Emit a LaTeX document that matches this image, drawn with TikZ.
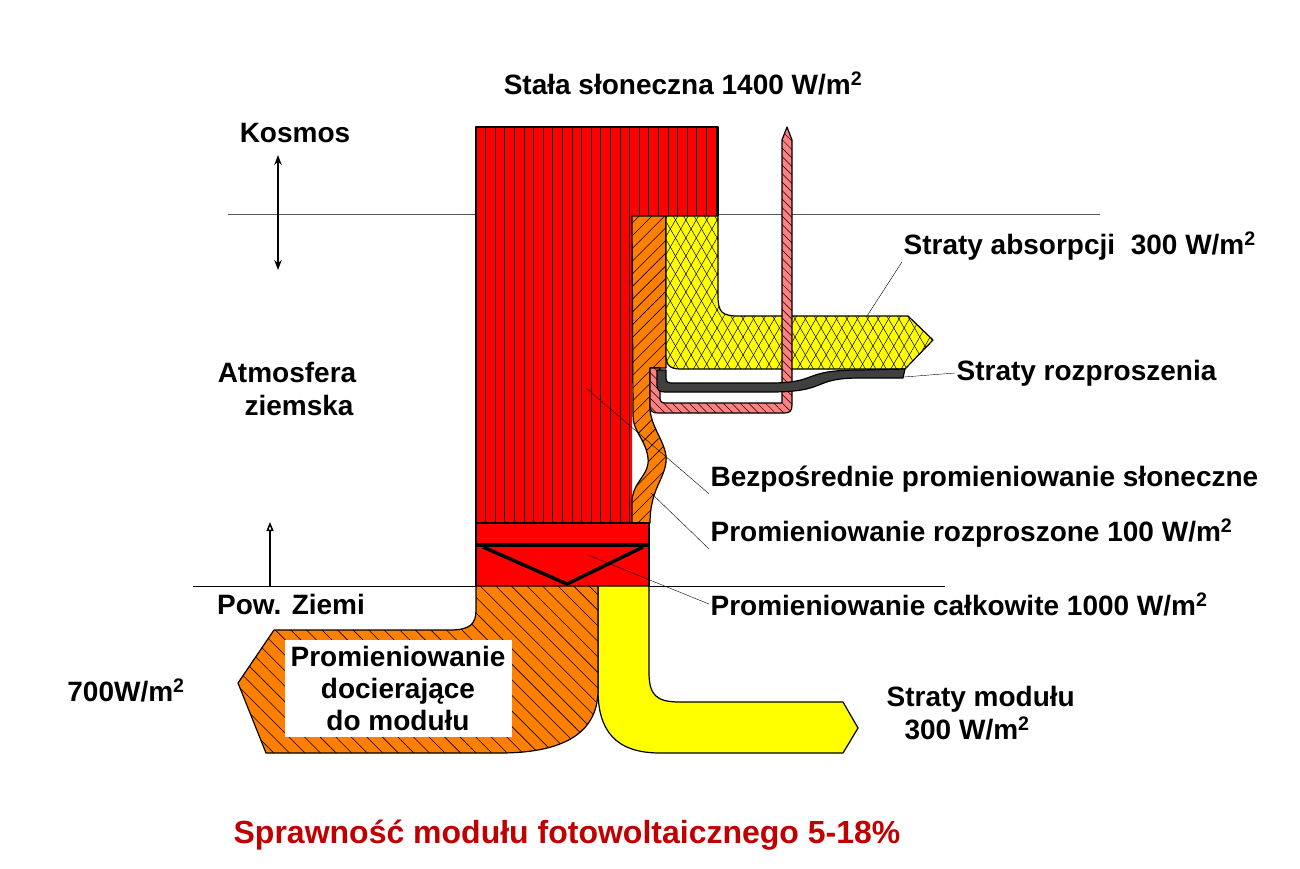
\documentclass[tikz,border=0pt]{standalone}
\usepackage{fontspec}
\setmainfont{Liberation Sans}
\usetikzlibrary{patterns.meta,arrows.meta}
\definecolor{redC}{RGB}{255,0,0}
\definecolor{orangeC}{RGB}{255,128,0}
\definecolor{yellowC}{RGB}{255,255,0}
\definecolor{pinkC}{RGB}{255,128,128}
\definecolor{grayC}{RGB}{64,64,64}
\definecolor{titleC}{RGB}{192,0,0}
\tikzset{
  lbl/.style={font=\fontsize{28}{33}\selectfont\bfseries,inner sep=1pt},
  lead/.style={draw,thin},
  hatchR/.style={preaction={fill=orangeC},pattern={Lines[angle=45,distance=9pt,line width=0.6pt]}},
  hatchL/.style={preaction={fill=orangeC},pattern={Lines[angle=-45,distance=11pt,line width=0.6pt]}},
  hatchP/.style={preaction={fill=pinkC},pattern={Lines[angle=-45,distance=6pt,line width=0.5pt]}},
  cross/.style={preaction={fill=yellowC},postaction={pattern={Lines[angle=60,distance=9pt,line width=0.5pt]}},pattern={Lines[angle=-60,distance=9pt,line width=0.5pt]}}
}
\begin{document}
\begin{tikzpicture}[x=1pt,y=-1pt,line join=round,line width=1.2pt]
\useasboundingbox (0,0) rectangle (1300,868);
% layer lines
\draw[gray!70!black,thin] (228,214) -- (1100,214);
\draw[thin] (193,586) -- (945,586);
% red column
\fill[redC] (476,127) -- (718,127) -- (718,216) -- (632,216) -- (632,523) -- (476,523) -- cycle;
\foreach \i in {0,...,25} {
  \pgfmathsetmacro{\xx}{476+9.6*\i}
  \ifdim\xx pt<632pt \draw[line width=0.8pt] (\xx,127) -- (\xx,523); \else \draw[line width=0.8pt] (\xx,127) -- (\xx,216); \fi
}
\draw (476,523) -- (476,127) -- (718,127) -- (718,216);
% diffuse (orange strip)
\draw[hatchR] (632,216) -- (666,216) -- (666,368) -- (650,368) -- (650,410)
  .. controls (652,430) and (668,445) .. (666,462)
  .. controls (664,480) and (650,490) .. (650,523) -- (632,523) -- (632,500)
  .. controls (634,480) and (650,475) .. (648,458)
  .. controls (646,440) and (632,430) .. (633,415) -- cycle;
% absorption losses
\draw[cross] (666,216) -- (718,216) -- (718,296) .. controls (718,312) and (722,316) .. (738,316)
  -- (908,316) -- (933,340) -- (905,369) -- (680,369) .. controls (670,369) and (666,365) .. (666,355) -- cycle;
% pink scattered losses
\draw[hatchP] (650,368) -- (660,368) -- (660,398) .. controls (660,402) and (662,403) .. (666,403)
  -- (782,403) -- (782,140) -- (787,127) -- (792,140) -- (792,405) .. controls (792,411) and (790,413) .. (784,413)
  -- (658,413) .. controls (652,413) and (650,411) .. (650,405) -- cycle;
% gray scattered losses
\draw[fill=grayC] (657,370) -- (666,370) -- (666,378) .. controls (666,382) and (668,383) .. (672,383)
  -- (770,383) .. controls (820,383) and (800,370) .. (860,370) -- (905,369) -- (903,378) -- (860,378)
  .. controls (810,378) and (830,392) .. (770,392) -- (665,392) .. controls (659,392) and (657,390) .. (657,385) -- cycle;
% total radiation
\fill[redC] (476,523) rectangle (649,586);
\draw (476,523) rectangle (649,545);
\draw (476,545) -- (476,586) (649,545) -- (649,586);
\draw[line width=3.5pt] (476,545) -- (649,545);
\draw[line width=3.5pt] (483,547) -- (567,584) -- (643,547);
% module losses
\draw[fill=yellowC] (598,586) -- (649,586) -- (649,672) .. controls (649,695) and (656,702) .. (680,702)
  -- (843,702) -- (858,728) -- (843,753) -- (660,753) .. controls (615,753) and (598,730) .. (598,690) -- cycle;
% reaching the module
\draw[hatchL] (476,586) -- (598,586) -- (598,690) .. controls (598,735) and (560,753) .. (500,753)
  -- (266,753) -- (238,683) -- (274,630) -- (450,630) .. controls (470,630) and (476,624) .. (476,610) -- cycle;
% arrows
\draw[{Stealth[length=10pt]}-{Stealth[length=10pt]},line width=1.5pt] (278,155) -- (278,270);
\draw[-{Triangle[open,length=9pt,width=7pt]},line width=1.5pt] (270,586) -- (270,522);
% labels
\node[lbl] (sun) at (683,83) {Stała słoneczna 1400 W/m\textsuperscript{2}};
\node[lbl] (cosmos) at (295,133) {Kosmos};
\node[lbl,align=center] (atm) at (287,389) {Atmosfera\\\hspace*{24pt}ziemska};
\node[lbl] (ground) at (291,604) {Pow. Ziemi};
\node[lbl] (left) at (126,690) {700W/m\textsuperscript{2}};
\node[lbl,fill=white,align=center,minimum width=227pt,minimum height=97pt,font=\fontsize{28}{32}\selectfont\bfseries] (reach) at (398,688) {Promieniowanie\\docierające\\do modułu};
\node[lbl,anchor=west] (abs) at (902,246) {Straty absorpcji\ \ 300 W/m\textsuperscript{2}};
\node[lbl,anchor=west] (scat) at (955,373) {Straty rozproszenia};
\node[lbl,anchor=west] (direct) at (709,479) {Bezpośrednie promieniowanie słoneczne};
\node[lbl,anchor=west] (diff) at (709,533) {Promieniowanie rozproszone 100 W/m\textsuperscript{2}};
\node[lbl,anchor=west] (total) at (709,604) {Promieniowanie całkowite 1000 W/m\textsuperscript{2}};
\node[lbl,anchor=west,align=left] (modl) at (885,713) {Straty modułu\\\hspace*{18pt}300 W/m\textsuperscript{2}};
\node[font=\fontsize{32}{38}\selectfont\bfseries,text=titleC] (title) at (567,835) {Sprawność modułu fotowoltaicznego 5-18\%};
% leaders
\coordinate (cAbs) at (867,316);
\coordinate (cScat) at (904,377);
\coordinate (cDir) at (586,388);
\coordinate (cDiff) at (651,493);
\coordinate (cTot) at (588,555);
\draw[lead] (cAbs) -- (abs.south west);
\draw[lead] (cScat) -- (scat.west);
\draw[lead] (cDir) -- (direct.south west);
\draw[lead] (cDiff) -- (diff.south west);
\draw[lead] (cTot) -- (total.west);
\end{tikzpicture}
\end{document}
